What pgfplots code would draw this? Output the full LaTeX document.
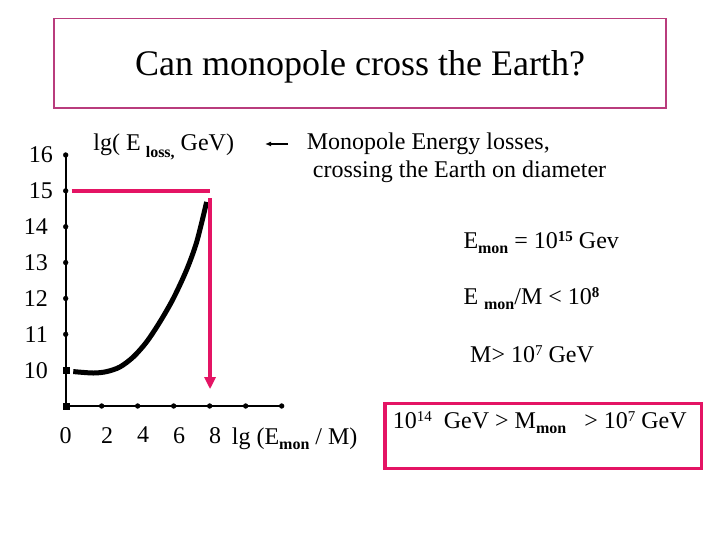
\documentclass[border=0pt]{standalone}
\usepackage{fontspec}
\setmainfont{Liberation Serif}
\usepackage{pgfplots}
\pgfplotsset{compat=1.18}
\usetikzlibrary{arrows.meta}
\definecolor{crim}{RGB}{228,20,100}
\definecolor{mauve}{RGB}{185,60,125}
\newcommand\fs{\fontsize{24bp}{28bp}\selectfont}
\newcommand\lo[1]{\raisebox{-5bp}{\fontsize{16bp}{16bp}\selectfont\bfseries #1}}
\newcommand\hi[1]{\raisebox{7bp}{\fontsize{15bp}{15bp}\selectfont #1}}

\begin{document}
\begin{tikzpicture}
\useasboundingbox[fill=white] (0,0) rectangle (720bp,540bp);

\begin{axis}[
  at={(65.7bp,134bp)}, anchor=south west,
  scale only axis, width=216bp, height=251bp,
  xmin=0, xmax=12, ymin=9, ymax=16,
  axis lines=left,
  axis line style={-, line width=2.2bp, draw=black},
  major tick length=0pt,
  xtick={0,2,4,6,8},
  xticklabels={{\hspace*{-11bp}0},2,4,6,8},
  ytick={10,11,12,13,14,15,16},
  yticklabels={10,11,12,13,14,{15\hspace*{-5bp}},{16\hspace*{-5bp}}},
  xticklabel style={font=\fs, inner sep=0pt, anchor=north, yshift=-21bp, xshift=5.5bp},
  yticklabel style={font=\fs, inner sep=0pt, anchor=east, xshift=-17.7bp},
  clip=false]
% tick dots
\addplot[only marks, mark=*, mark size=2.4bp, black]
  coordinates {(2,9) (4,9) (6,9) (8,9) (10,9) (12,9)
               (0,11) (0,12) (0,13) (0,14) (0,15) (0,16)};
\addplot[only marks, mark=square*, mark size=3bp, black]
  coordinates {(0,9) (0,10)};
% energy loss curve
\addplot[black, line width=5bp, smooth, tension=0.5]
  coordinates {(0.42,9.96) (1.53,9.92) (2.28,9.96) (3.02,10.09) (3.76,10.37)
               (4.50,10.79) (5.24,11.35) (5.98,12.0) (6.72,12.8)
               (7.28,13.58) (7.83,14.69)};
% red guide lines
\addplot[crim, line width=4bp] coordinates {(0.33,15) (8.02,15)};
\addplot[crim, line width=4bp, -{Triangle[width=11bp,length=12bp]}]
  coordinates {(8.02,14.79) (8.02,9.47)};
\end{axis}

\begin{scope}[x=1bp, y=-1bp, yshift=540bp]
% title box
\draw[mauve, line width=1.2bp] (54,18.5) rectangle (666,108);
\node[anchor=base, inner sep=0, font=\fontsize{36bp}{40bp}\selectfont] at (360,76) {Can monopole cross the Earth?};

% axis labels
\node[anchor=base west, inner sep=0, font=\fs] at (93.3,151)
  {lg( E\hspace{5bp}\raisebox{-7bp}{\fontsize{16bp}{16bp}\selectfont\bfseries loss,} GeV)};
\node[anchor=base west, inner sep=0, font=\fs] at (231.7,445) {lg (E\lo{mon} / M)};

% annotations
\draw[line width=1.3bp, -{Latex[length=6bp,width=5bp]}] (288,144) -- (265,144);
\node[anchor=base west, inner sep=0, font=\fs] at (306.7,150) {Monopole Energy losses,};
\node[anchor=base west, inner sep=0, font=\fs] at (312.7,178) {crossing the Earth on diameter};
\node[anchor=base west, inner sep=0, font=\fs] at (463.3,248.3) {E\lo{mon} = 10\hi{\bfseries 15} Gev};
\node[anchor=base west, inner sep=0, font=\fs] at (463.3,305) {E \lo{mon}/M < 10\hi{\bfseries 8}};
\node[anchor=base west, inner sep=0, font=\fs] at (470,362.7) {M> 10\hi{7} GeV};

% result box
\draw[crim, line width=3.5bp] (385,403.5) rectangle (701.5,468.3);
\node[anchor=base west, inner sep=0, font=\fs] at (392.7,428.3)
  {10\hi{14}\ \ GeV > M\lo{mon}\ \ \ > 10\hi{7} GeV};
\end{scope}
\end{tikzpicture}
\end{document}
